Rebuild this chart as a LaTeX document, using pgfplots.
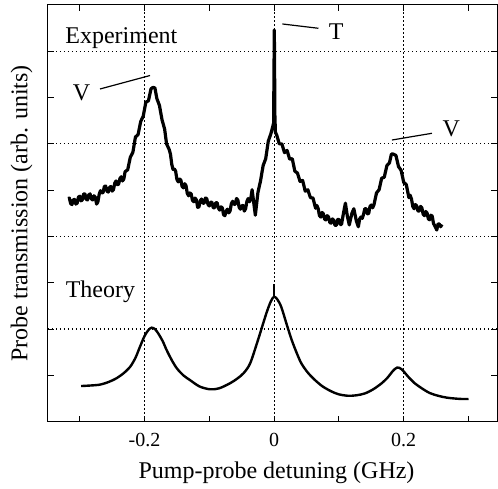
\documentclass[border=0pt]{standalone}
\usepackage{fontspec}
\setmainfont{Liberation Serif}
\usepackage{pgfplots}
\pgfplotsset{compat=1.18}
\begin{document}
\begin{tikzpicture}
\begin{axis}[
  scale only axis,
  width=224.5pt, height=208.35pt,
  xmin=-0.349, xmax=0.344,
  ymin=0, ymax=9,
  xtick={-0.2,0,0.2},
  xticklabels={-0.2,0,0.2},
  minor xtick={-0.3,-0.1,0.1,0.3},
  ytick={2,4,6,8},
  yticklabels={},
  minor ytick={1,3,5,7},
  tick align=inside,
  major tick length=3pt,
  minor tick length=3pt,
  xmajorgrids, ymajorgrids,
  major grid style={black, line width=0.6pt, dash pattern=on 0.6pt off 1.4pt},
  axis line style={line width=0.5pt},
  every tick/.style={black, line width=0.5pt},
  xticklabel style={font=\fontsize{10}{12}\selectfont, anchor=base, yshift=-12.2pt},
  xlabel={Pump-probe detuning (GHz)},
  ylabel={Probe transmission (arb. units)},
  label style={font=\fontsize{12}{14}\selectfont},
  xlabel style={at={(axis description cs:0.5,0)}, anchor=base, yshift=-28.2pt, xshift=2pt},
  ylabel style={at={(axis description cs:0,0.5)}, anchor=center, yshift=13.25pt},
  clip=false,
]
% Experiment
\addplot[black, line width=1.6pt, line join=round] coordinates {
(-0.318,4.82)(-0.316,4.83)(-0.314,4.71)(-0.312,4.69)(-0.310,4.79)(-0.308,4.80)(-0.306,4.70)(-0.304,4.72)(-0.302,4.85)(-0.300,4.87)
(-0.298,4.77)(-0.296,4.79)(-0.294,4.92)(-0.292,4.92)(-0.290,4.80)(-0.288,4.79)(-0.286,4.90)(-0.284,4.92)(-0.282,4.81)(-0.280,4.79)
(-0.278,4.88)(-0.276,4.85)(-0.274,4.70)(-0.272,4.75)(-0.270,4.91)(-0.268,4.99)(-0.266,4.94)(-0.264,4.95)(-0.262,5.08)(-0.260,5.09)
(-0.258,4.98)(-0.256,4.96)(-0.254,5.06)(-0.252,5.08)(-0.250,4.98)(-0.248,5.01)(-0.246,5.15)(-0.244,5.20)(-0.242,5.12)(-0.240,5.13)
(-0.238,5.25)(-0.236,5.29)(-0.234,5.20)(-0.232,5.24)(-0.230,5.40)
(-0.226,5.44)(-0.222,5.71)(-0.218,5.82)(-0.214,6.15)(-0.210,6.20)(-0.206,6.48)(-0.202,6.60)
(-0.198,6.90)(-0.194,6.93)(-0.190,7.19)(-0.187,7.22)(-0.184,7.21)(-0.181,6.98)(-0.177,6.83)(-0.173,6.52)(-0.169,6.32)(-0.166,6.00)
(-0.162,5.88)(-0.160,5.78)(-0.158,5.56)(-0.156,5.45)(-0.154,5.46)(-0.152,5.41)(-0.150,5.23)(-0.148,5.18)(-0.146,5.24)(-0.144,5.22)
(-0.142,5.08)(-0.140,5.05)(-0.138,5.14)(-0.136,5.10)(-0.134,4.93)(-0.132,4.88)(-0.130,4.94)(-0.128,4.92)(-0.126,4.78)(-0.124,4.75)
(-0.122,4.83)(-0.120,4.79)(-0.118,4.63)(-0.116,4.64)(-0.114,4.77)(-0.112,4.81)(-0.110,4.72)(-0.108,4.72)(-0.106,4.83)(-0.104,4.82)
(-0.102,4.69)(-0.100,4.66)(-0.098,4.74)(-0.096,4.74)(-0.094,4.62)(-0.092,4.62)(-0.090,4.73)(-0.088,4.73)(-0.086,4.61)(-0.084,4.57)
(-0.082,4.64)(-0.080,4.62)(-0.078,4.47)(-0.076,4.45)(-0.074,4.55)(-0.072,4.59)(-0.070,4.51)(-0.068,4.55)(-0.066,4.71)(-0.064,4.76)
(-0.062,4.69)(-0.060,4.70)(-0.058,4.82)(-0.056,4.79)(-0.054,4.63)(-0.052,4.59)(-0.050,4.66)(-0.048,4.67)(-0.046,4.55)(-0.044,4.60)
(-0.042,4.76)(-0.040,4.82)(-0.038,4.75)(-0.036,4.82)(-0.034,5.01)
(-0.031,4.68)(-0.029,4.46)(-0.025,4.95)(-0.021,5.20)(-0.017,5.53)(-0.013,5.68)(-0.009,6.06)
(-0.005,6.22)(-0.002,6.38)(-0.0008,6.45)(0.0003,8.46)(0.0012,6.6)(0.002,6.25)
(0.004,6.19)(0.008,6.00)(0.012,6.00)(0.016,5.81)(0.020,5.86)(0.024,5.67)(0.028,5.68)(0.032,5.41)(0.036,5.37)(0.040,5.19)
(0.044,5.21)(0.048,4.98)(0.052,5.01)(0.056,4.84)(0.060,4.83)
(0.064,4.61)(0.066,4.67)(0.068,4.60)(0.070,4.45)(0.072,4.42)(0.074,4.52)(0.076,4.49)(0.078,4.37)(0.080,4.36)(0.082,4.45)
(0.084,4.42)(0.086,4.30)(0.088,4.29)(0.090,4.38)(0.092,4.35)(0.094,4.24)(0.096,4.24)(0.098,4.37)(0.100,4.37)(0.102,4.26)
(0.104,4.26)(0.107,4.50)(0.110,4.72)(0.113,4.44)(0.116,4.25)
(0.120,4.50)(0.123,4.60)(0.127,4.33)(0.130,4.21)(0.132,4.38)(0.134,4.42)(0.136,4.39)(0.138,4.48)(0.140,4.60)(0.142,4.60)
(0.144,4.49)(0.146,4.50)(0.148,4.65)(0.150,4.68)(0.152,4.62)(0.154,4.68)
(0.158,4.94)(0.162,5.01)(0.166,5.26)(0.170,5.28)(0.174,5.53)(0.178,5.59)(0.181,5.78)(0.184,5.78)(0.188,5.75)(0.192,5.51)
(0.196,5.43)(0.200,5.17)(0.204,5.12)
(0.208,4.84)(0.210,4.89)(0.212,4.81)(0.214,4.65)(0.216,4.60)(0.218,4.69)(0.220,4.66)(0.222,4.55)(0.224,4.55)(0.226,4.65)
(0.228,4.62)(0.230,4.48)(0.232,4.45)(0.234,4.54)(0.236,4.51)(0.238,4.38)(0.240,4.36)(0.242,4.46)(0.244,4.44)(0.246,4.28)
(0.248,4.23)(0.251,4.14)(0.253,4.27)(0.255,4.27)(0.257,4.21)(0.259,4.26)
};
% Theory
\addplot[black, line width=1.2pt, smooth, tension=0.5] coordinates {
(-0.298,0.77)(-0.285,0.78)(-0.269,0.80)(-0.255,0.86)(-0.243,0.94)(-0.232,1.05)(-0.222,1.19)(-0.214,1.38)(-0.207,1.62)(-0.200,1.85)
(-0.194,1.98)(-0.189,2.03)(-0.184,2.00)(-0.179,1.91)(-0.172,1.74)(-0.166,1.55)(-0.158,1.33)(-0.150,1.15)(-0.140,1.00)(-0.130,0.90)
(-0.115,0.76)(-0.099,0.70)(-0.085,0.72)(-0.068,0.83)(-0.057,0.93)(-0.047,1.05)(-0.037,1.26)(-0.025,1.76)(-0.012,2.34)(-0.005,2.60)
(0,2.70)(0.005,2.64)(0.011,2.48)(0.019,2.12)(0.027,1.77)(0.035,1.48)(0.042,1.26)(0.052,1.06)(0.063,0.90)(0.075,0.76)
(0.089,0.65)(0.100,0.59)(0.114,0.56)(0.127,0.57)(0.140,0.61)(0.153,0.70)(0.166,0.83)(0.175,0.95)(0.183,1.09)(0.190,1.17)
(0.197,1.13)(0.207,0.97)(0.217,0.83)(0.228,0.72)(0.240,0.62)(0.253,0.56)(0.266,0.52)(0.279,0.50)(0.290,0.49)(0.300,0.49)
};
\addplot[black, line width=1.2pt] coordinates {(0,2.68)(0,2.97)};
% annotations
\node[font=\fontsize{12}{14}\selectfont, anchor=base] at (axis cs:-0.2357,8.17) {Experiment};
\node[font=\fontsize{12}{14}\selectfont, anchor=base] at (axis cs:-0.2973,6.927) {V};
\draw[black, line width=0.6pt] (axis cs:-0.2687,7.186) -- (axis cs:-0.1915,7.477);
\node[font=\fontsize{12}{14}\selectfont, anchor=base] at (axis cs:0.0958,8.244) {T};
\draw[black, line width=0.6pt] (axis cs:0.0128,8.590) -- (axis cs:0.0684,8.497);
\node[font=\fontsize{12}{14}\selectfont, anchor=base] at (axis cs:0.2734,6.156) {V};
\draw[black, line width=0.6pt] (axis cs:0.1818,6.084) -- (axis cs:0.2436,6.229);
\node[font=\fontsize{12}{14}\selectfont, anchor=base] at (axis cs:-0.268,2.687) {Theory};
\end{axis}
\pgfresetboundingbox
\path[use as bounding box] ([shift={(-24pt,-33.65pt)}]current axis.south west) rectangle ([shift={(0.5pt,2.5pt)}]current axis.north east);
\end{tikzpicture}
\end{document}
